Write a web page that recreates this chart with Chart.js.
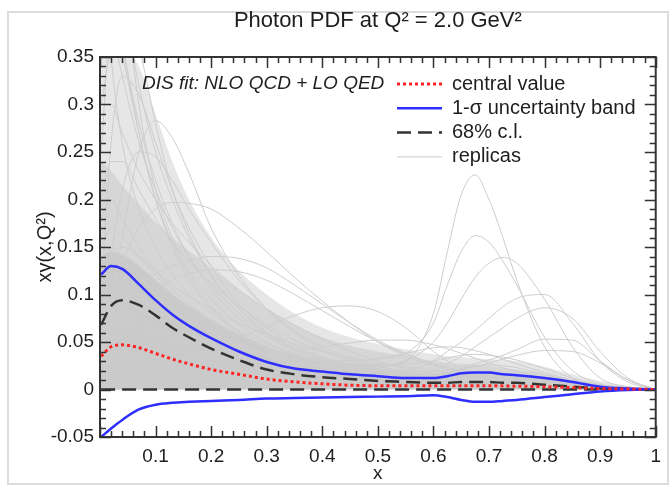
<!DOCTYPE html>
<html>
<head>
<meta charset="utf-8">
<script src="https://cdn.jsdelivr.net/npm/chart.js@4.4.0/dist/chart.umd.min.js"></script>
<style>
  html, body { margin: 0; padding: 0; background: #fff; }
</style>
</head>
<body>
<canvas id="pdf" width="669" height="495"></canvas>
<script>
  'use strict';

  // x grid shared by every curve
  var xGrid = [0.002, 0.02, 0.04, 0.07, 0.1, 0.13, 0.16, 0.2, 0.25, 0.3, 0.35, 0.4, 0.45, 0.5,
    0.55, 0.6, 0.625, 0.65, 0.675, 0.7, 0.725, 0.75, 0.8, 0.85, 0.9, 0.95, 1.0];

  var centralValue = [0.035, 0.045, 0.047, 0.044, 0.038, 0.032, 0.027, 0.021, 0.016, 0.011, 0.008, 0.006, 0.0045, 0.004,
    0.004, 0.004, 0.004, 0.004, 0.004, 0.004, 0.0038, 0.0035, 0.003, 0.002, 0.001, 0.0005, 0];
  var sigmaUpper = [0.121, 0.130, 0.127, 0.111, 0.094, 0.079, 0.067, 0.054, 0.040, 0.029, 0.022, 0.019, 0.016, 0.014,
    0.012, 0.012, 0.014, 0.017, 0.018, 0.018, 0.016, 0.015, 0.012, 0.008, 0.003, 0.001, 0];
  var sigmaLower = [-0.05, -0.041, -0.032, -0.021, -0.016, -0.014, -0.013, -0.012, -0.011, -0.0095, -0.009, -0.0085, -0.008, -0.0075,
    -0.007, -0.006, -0.008, -0.011, -0.013, -0.013, -0.012, -0.011, -0.008, -0.005, -0.002, -0.0005, 0];
  var clUpper = [0.068, 0.088, 0.094, 0.089, 0.078, 0.065, 0.055, 0.043, 0.031, 0.021, 0.016, 0.013, 0.011, 0.009,
    0.008, 0.007, 0.007, 0.008, 0.008, 0.008, 0.007, 0.007, 0.005, 0.003, 0.001, 0.0005, 0];
  var clLower = [0, 0, 0, 0, 0, 0, 0, 0, 0, 0, 0, 0, 0, 0, 0, 0, 0, 0, 0, 0, 0, 0, 0, 0, 0, 0, 0];

  // where the replicas overlap so densely that they read as a grey area
  var replicaDense = [0.14, 0.145, 0.142, 0.13, 0.115, 0.1, 0.088, 0.073, 0.057, 0.045, 0.036, 0.03, 0.025, 0.021,
    0.019, 0.017, 0.017, 0.018, 0.019, 0.019, 0.017, 0.016, 0.012, 0.008, 0.004, 0.002, 0];
  var replicaCore = [0.24, 0.23, 0.215, 0.195, 0.176, 0.16, 0.146, 0.128, 0.105, 0.085, 0.068, 0.055, 0.046, 0.04,
    0.035, 0.03, 0.028, 0.027, 0.026, 0.025, 0.023, 0.021, 0.016, 0.01, 0.005, 0.002, 0];
  var replicaSpread = [0.36, 0.36, 0.36, 0.34, 0.29, 0.24, 0.2, 0.16, 0.125, 0.1, 0.08, 0.065, 0.055, 0.048,
    0.042, 0.037, 0.035, 0.034, 0.033, 0.032, 0.031, 0.03, 0.024, 0.016, 0.009, 0.003, 0];

  var replicas = [
    [0.62, 0.47, 0.37, 0.27, 0.2, 0.155, 0.12, 0.088, 0.06, 0.042, 0.031, 0.024, 0.019, 0.015, 0.012, 0.01, 0.009, 0.009, 0.008, 0.008, 0.007, 0.006, 0.005, 0.003, 0.002, 0.001, 0],
    [0.55, 0.5, 0.42, 0.32, 0.25, 0.2, 0.16, 0.12, 0.085, 0.06, 0.044, 0.033, 0.025, 0.02, 0.016, 0.013, 0.012, 0.011, 0.01, 0.01, 0.009, 0.008, 0.006, 0.004, 0.002, 0.001, 0],
    [0.03, 0.09, 0.16, 0.25, 0.283, 0.265, 0.228, 0.17, 0.12, 0.085, 0.06, 0.042, 0.03, 0.022, 0.016, 0.012, 0.011, 0.01, 0.009, 0.009, 0.008, 0.007, 0.005, 0.003, 0.002, 0.001, 0],
    [0.06, 0.07, 0.07, 0.065, 0.058, 0.052, 0.048, 0.048, 0.055, 0.066, 0.078, 0.086, 0.088, 0.082, 0.065, 0.04, 0.03, 0.022, 0.016, 0.012, 0.01, 0.008, 0.005, 0.003, 0.002, 0.001, 0],
    [0.09, 0.12, 0.12, 0.11, 0.095, 0.082, 0.072, 0.06, 0.048, 0.04, 0.034, 0.03, 0.027, 0.024, 0.03, 0.08, 0.145, 0.205, 0.226, 0.2, 0.16, 0.115, 0.045, 0.012, 0.003, 0.001, 0],
    [0.05, 0.08, 0.09, 0.085, 0.075, 0.066, 0.058, 0.05, 0.042, 0.036, 0.032, 0.03, 0.03, 0.032, 0.038, 0.07, 0.11, 0.145, 0.162, 0.155, 0.135, 0.11, 0.055, 0.02, 0.006, 0.002, 0],
    [0.04, 0.07, 0.08, 0.075, 0.066, 0.058, 0.05, 0.042, 0.035, 0.03, 0.027, 0.025, 0.024, 0.025, 0.03, 0.05, 0.07, 0.095, 0.118, 0.133, 0.139, 0.133, 0.095, 0.045, 0.012, 0.003, 0],
    [0.12, 0.15, 0.14, 0.12, 0.1, 0.085, 0.073, 0.06, 0.046, 0.036, 0.029, 0.024, 0.021, 0.019, 0.02, 0.03, 0.04, 0.05, 0.062, 0.075, 0.087, 0.096, 0.1, 0.07, 0.03, 0.008, 0],
    [0.07, 0.1, 0.1, 0.09, 0.078, 0.067, 0.058, 0.048, 0.038, 0.03, 0.025, 0.021, 0.018, 0.016, 0.016, 0.02, 0.027, 0.035, 0.045, 0.055, 0.065, 0.075, 0.086, 0.075, 0.04, 0.012, 0],
    [0.18, 0.2, 0.18, 0.15, 0.125, 0.105, 0.09, 0.074, 0.058, 0.045, 0.036, 0.029, 0.024, 0.02, 0.016, 0.015, 0.018, 0.022, 0.027, 0.031, 0.036, 0.042, 0.053, 0.052, 0.03, 0.01, 0],
    [0.06, 0.1, 0.135, 0.17, 0.19, 0.197, 0.196, 0.19, 0.17, 0.145, 0.118, 0.093, 0.07, 0.05, 0.035, 0.025, 0.021, 0.018, 0.016, 0.014, 0.012, 0.011, 0.008, 0.005, 0.003, 0.001, 0],
    [0.3, 0.3, 0.27, 0.23, 0.2, 0.175, 0.155, 0.13, 0.105, 0.085, 0.068, 0.053, 0.04, 0.03, 0.022, 0.017, 0.015, 0.013, 0.012, 0.011, 0.01, 0.009, 0.007, 0.004, 0.002, 0.001, 0],
    [0.4, 0.38, 0.33, 0.26, 0.21, 0.17, 0.14, 0.11, 0.08, 0.058, 0.042, 0.031, 0.024, 0.019, 0.016, 0.014, 0.013, 0.012, 0.011, 0.01, 0.009, 0.008, 0.006, 0.004, 0.002, 0.001, 0],
    [0.1, 0.14, 0.15, 0.14, 0.125, 0.11, 0.098, 0.085, 0.07, 0.058, 0.048, 0.04, 0.034, 0.028, 0.024, 0.02, 0.018, 0.017, 0.016, 0.015, 0.014, 0.012, 0.009, 0.006, 0.003, 0.001, 0],
    [0.2, 0.24, 0.24, 0.21, 0.18, 0.155, 0.135, 0.112, 0.088, 0.068, 0.052, 0.04, 0.031, 0.024, 0.019, 0.015, 0.014, 0.013, 0.012, 0.011, 0.01, 0.009, 0.007, 0.004, 0.002, 0.001, 0],
    [0.05, 0.14, 0.21, 0.25, 0.245, 0.22, 0.19, 0.155, 0.115, 0.085, 0.062, 0.045, 0.033, 0.025, 0.019, 0.015, 0.014, 0.013, 0.012, 0.011, 0.01, 0.009, 0.007, 0.004, 0.002, 0.001, 0],
    [0.03, 0.05, 0.07, 0.09, 0.105, 0.115, 0.122, 0.126, 0.124, 0.115, 0.1, 0.083, 0.066, 0.05, 0.037, 0.027, 0.023, 0.02, 0.018, 0.016, 0.014, 0.012, 0.009, 0.006, 0.003, 0.001, 0],
    [0.02, 0.03, 0.035, 0.035, 0.034, 0.033, 0.032, 0.032, 0.034, 0.037, 0.041, 0.045, 0.049, 0.052, 0.052, 0.047, 0.043, 0.038, 0.033, 0.028, 0.023, 0.019, 0.012, 0.006, 0.003, 0.001, 0],
    [0.15, 0.17, 0.16, 0.14, 0.12, 0.1, 0.085, 0.07, 0.055, 0.043, 0.035, 0.03, 0.027, 0.026, 0.027, 0.03, 0.033, 0.036, 0.037, 0.036, 0.034, 0.031, 0.022, 0.012, 0.005, 0.002, 0],
    [0.35, 0.4, 0.36, 0.28, 0.22, 0.175, 0.14, 0.105, 0.075, 0.055, 0.041, 0.032, 0.026, 0.022, 0.02, 0.019, 0.02, 0.022, 0.025, 0.026, 0.025, 0.023, 0.016, 0.009, 0.004, 0.001, 0],
    [0.5, 0.35, 0.26, 0.19, 0.15, 0.12, 0.1, 0.08, 0.062, 0.048, 0.038, 0.03, 0.024, 0.02, 0.017, 0.015, 0.014, 0.013, 0.012, 0.011, 0.01, 0.009, 0.007, 0.004, 0.002, 0.001, 0],
    [0.1, 0.26, 0.33, 0.31, 0.26, 0.21, 0.17, 0.13, 0.09, 0.065, 0.047, 0.035, 0.027, 0.021, 0.017, 0.014, 0.013, 0.012, 0.011, 0.01, 0.009, 0.008, 0.006, 0.004, 0.002, 0.001, 0],
    [0.7, 0.6, 0.45, 0.3, 0.21, 0.16, 0.125, 0.095, 0.068, 0.05, 0.037, 0.028, 0.022, 0.018, 0.015, 0.013, 0.012, 0.011, 0.01, 0.01, 0.009, 0.008, 0.006, 0.004, 0.002, 0.001, 0],
    [0.25, 0.38, 0.35, 0.27, 0.2, 0.15, 0.115, 0.085, 0.06, 0.043, 0.032, 0.025, 0.02, 0.016, 0.013, 0.011, 0.01, 0.01, 0.009, 0.009, 0.008, 0.007, 0.005, 0.003, 0.002, 0.001, 0],
    [0.04, 0.07, 0.09, 0.11, 0.122, 0.13, 0.136, 0.14, 0.138, 0.128, 0.11, 0.09, 0.07, 0.052, 0.038, 0.027, 0.023, 0.02, 0.017, 0.015, 0.013, 0.011, 0.008, 0.005, 0.002, 0.001, 0],
    [0.06, 0.09, 0.1, 0.095, 0.085, 0.075, 0.066, 0.056, 0.046, 0.038, 0.033, 0.03, 0.03, 0.033, 0.038, 0.044, 0.045, 0.044, 0.041, 0.037, 0.032, 0.027, 0.018, 0.01, 0.004, 0.001, 0],
    [0.08, 0.11, 0.11, 0.1, 0.088, 0.076, 0.066, 0.055, 0.044, 0.035, 0.028, 0.023, 0.019, 0.016, 0.015, 0.016, 0.018, 0.021, 0.024, 0.028, 0.032, 0.036, 0.041, 0.04, 0.028, 0.01, 0],
    [0.3, 0.36, 0.4, 0.36, 0.28, 0.21, 0.165, 0.12, 0.085, 0.06, 0.044, 0.033, 0.026, 0.021, 0.017, 0.014, 0.013, 0.012, 0.011, 0.01, 0.009, 0.008, 0.006, 0.004, 0.002, 0.001, 0]
  ];

  var titleText = 'Photon PDF at Q\u00b2 = 2.0 GeV\u00b2';
  var fitText = 'DIS fit: NLO QCD + LO QED';
  var legendLabels = ['central value', '1-\u03c3 uncertainty band', '68% c.l.', 'replicas'];

  var RED = '#ff2424';
  var BLUE = '#2e2eff';
  var DARK = '#333333';
  var TEXT = '#1e1e1e';
  var REPLICA = '#cdcdcd';
  var FONT = '"Liberation Sans", Arial, sans-serif';

  function points(ys) {
    return xGrid.map(function(x, i) { return {x: x, y: ys[i]}; });
  }

  function line(label, ys, color, width, dash) {
    return {
      label: label,
      data: points(ys),
      borderColor: color,
      borderWidth: width,
      borderDash: dash || [],
      pointRadius: 0,
      fill: false,
      cubicInterpolationMode: 'monotone'
    };
  }

  function area(ys, color) {
    return {
      label: '',
      data: points(ys),
      borderWidth: 0,
      pointRadius: 0,
      backgroundColor: color,
      fill: 'origin',
      cubicInterpolationMode: 'monotone'
    };
  }

  // first dataset is drawn on top
  var datasets = [
    line(legendLabels[0], centralValue, RED, 3, [3, 3]),
    line(legendLabels[1], sigmaUpper, BLUE, 2.5),
    line('', sigmaLower, BLUE, 2.5),
    line(legendLabels[2], clUpper, DARK, 2.5, [14, 7]),
    line('', clLower, DARK, 2.5, [14, 7])
  ];
  replicas.forEach(function(r, i) {
    datasets.push(line(i === 0 ? legendLabels[3] : '', r, REPLICA, 1));
  });
  datasets.push(area(replicaDense, '#cacaca'));
  datasets.push(area(replicaCore, '#d6d6d6'));
  datasets.push(area(replicaSpread, '#e6e6e6'));

  // outer frame of the figure
  var pageFrame = {
    id: 'pageFrame',
    beforeDraw: function(chart) {
      var ctx = chart.ctx;
      ctx.save();
      ctx.fillStyle = '#fff';
      ctx.fillRect(0, 0, chart.width, chart.height);
      ctx.strokeStyle = '#dcdcdc';
      ctx.lineWidth = 2;
      ctx.strokeRect(8, 12, 660, 472);
      ctx.restore();
    }
  };

  // box, inward ticks, title, fit text and legend, ROOT style
  var decorations = {
    id: 'decorations',
    afterDraw: function(chart) {
      var ctx = chart.ctx, a = chart.chartArea;
      var xs = chart.scales.x, ys = chart.scales.y;
      ctx.save();
      ctx.strokeStyle = DARK;
      ctx.lineWidth = 1.5;
      ctx.beginPath();
      for (var i = 0; i <= 50; i++) {
        var px = Math.round(xs.getPixelForValue(i * 0.02)) + 0.5;
        var len = i % 5 === 0 ? 11 : 6;
        ctx.moveTo(px, a.bottom); ctx.lineTo(px, a.bottom - len);
        ctx.moveTo(px, a.top); ctx.lineTo(px, a.top + len);
      }
      for (var j = 0; j <= 40; j++) {
        var py = Math.round(ys.getPixelForValue(-0.05 + j * 0.01)) + 0.5;
        var len2 = j % 5 === 0 ? 11 : 6;
        ctx.moveTo(a.left, py); ctx.lineTo(a.left + len2, py);
        ctx.moveTo(a.right, py); ctx.lineTo(a.right - len2, py);
      }
      ctx.stroke();
      ctx.lineWidth = 2;
      ctx.strokeRect(a.left, a.top, a.right - a.left, a.bottom - a.top);

      ctx.fillStyle = TEXT;
      ctx.textBaseline = 'middle';
      ctx.textAlign = 'center';
      ctx.font = '22px ' + FONT;
      ctx.fillText(titleText, (a.left + a.right) / 2, 21);

      ctx.textAlign = 'left';
      ctx.font = 'italic 19px ' + FONT;
      ctx.fillText(fitText, a.left + 42, a.top + 27);

      // legend, styles read from the datasets
      var rows = [0, 1, 3, 5];
      ctx.font = '20px ' + FONT;
      rows.forEach(function(dsIndex, k) {
        var ds = chart.data.datasets[dsIndex];
        var y = a.top + 27 + k * 24.3;
        ctx.save();
        ctx.strokeStyle = ds.borderColor;
        ctx.lineWidth = ds.borderWidth;
        ctx.setLineDash(ds.borderDash);
        ctx.beginPath();
        ctx.moveTo(397, y); ctx.lineTo(442, y);
        ctx.stroke();
        ctx.restore();
        ctx.fillStyle = TEXT;
        ctx.fillText(ds.label, 452, y);
      });
      ctx.restore();
    }
  };

  new Chart(document.getElementById('pdf'), {
    type: 'line',
    data: {datasets: datasets},
    options: {
      responsive: false,
      animation: false,
      layout: {padding: {top: 57, right: 9, left: 0, bottom: 0}},
      plugins: {
        legend: {display: false},
        tooltip: {enabled: false},
        title: {display: false}
      },
      scales: {
        x: {
          type: 'linear',
          min: 0,
          max: 1,
          grid: {display: false, drawTicks: false},
          border: {display: false},
          ticks: {
            stepSize: 0.1,
            padding: 8,
            color: TEXT,
            font: {family: FONT, size: 19},
            maxRotation: 0,
            callback: function(v) { return v === 0 ? '' : String(+v.toFixed(1)); }
          },
          title: {
            display: true,
            text: 'x',
            color: TEXT,
            font: {family: FONT, size: 19},
            padding: {top: 0, bottom: 10}
          },
          afterFit: function(scale) { scale.height = 58; }
        },
        y: {
          type: 'linear',
          min: -0.05,
          max: 0.35,
          grid: {display: false, drawTicks: false},
          border: {display: false},
          ticks: {
            stepSize: 0.05,
            padding: 6,
            color: TEXT,
            font: {family: FONT, size: 19},
            callback: function(v) { return String(+v.toFixed(2)); }
          },
          title: {
            display: true,
            text: 'x\u03b3(x,Q\u00b2)',
            color: TEXT,
            font: {family: FONT, size: 20},
            padding: {top: 33, bottom: 0}
          },
          afterFit: function(scale) { scale.width = 100; }
        }
      }
    },
    plugins: [pageFrame, decorations]
  });
</script>
</body>
</html>
